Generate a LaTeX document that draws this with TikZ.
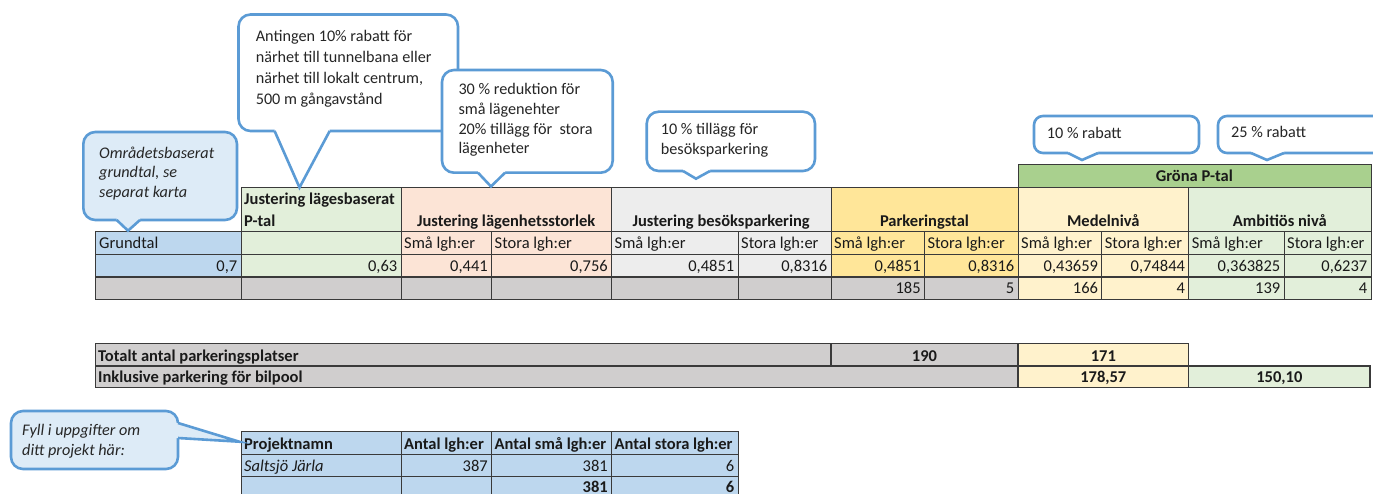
\documentclass[tikz,border=0pt]{standalone}
\usepackage{fontspec}
\setmainfont{Carlito}
\definecolor{cb}{HTML}{5B9BD5}
\definecolor{lbfill}{HTML}{DDEBF7}
\definecolor{gblue}{HTML}{BDD7EE}
\definecolor{lgreen}{HTML}{E2EFDA}
\definecolor{peach}{HTML}{FCE4D6}
\definecolor{lgrey}{HTML}{EDEDED}
\definecolor{yel}{HTML}{FFE699}
\definecolor{lyel}{HTML}{FFF2CC}
\definecolor{grn}{HTML}{A9D08E}
\definecolor{cgrey}{HTML}{D0CECE}
\definecolor{bcol}{HTML}{3A3A3A}
\definecolor{txt}{HTML}{1A1A1A}
\definecolor{ctxt}{HTML}{262626}
\newcommand\tabfont{\fontsize{16.5}{20}\selectfont}
\newcommand\tabbold{\fontsize{16.5}{21}\selectfont\bfseries}
\newcommand\calfont{\fontsize{16.2}{20}\selectfont}
\newcommand\cel[5]{\path[cellframe, fill=#5] (#1,#2) rectangle (#3,#4);}
\begin{document}
\begin{tikzpicture}[x=1pt,y=-1pt,
  cellframe/.style={draw=bcol, line width=0.9pt},
  tl/.style={inner sep=0pt, anchor=base west, font=\tabfont, text=txt},
  tr/.style={inner sep=0pt, anchor=base east, font=\tabfont, text=txt},
  tc/.style={inner sep=0pt, anchor=base, font=\tabfont, text=txt},
  hb/.style={inner sep=0pt, anchor=base, font=\tabbold, text=txt},
  cbox/.style={draw=cb, line width=2.6pt, rounded corners=12pt},
  cline/.style={draw=cb, line width=2.6pt, line join=miter},
  ctext/.style={inner sep=0pt, anchor=base west, font=\calfont, text=ctxt}]
\useasboundingbox (0,0) rectangle (1373,494);
\clip (0,0) rectangle (1373,494);
\fill[white] (0,0) rectangle (1373,494);

% ---------- main table: header ----------
\cel{241}{187.3}{401}{231.7}{lgreen}
\cel{401}{187.3}{611.5}{231.7}{peach}
\cel{611.5}{187.3}{831}{231.7}{lgrey}
\cel{831}{187.3}{1018}{231.7}{yel}
\cel{1018}{164.7}{1371}{187.3}{grn}
\cel{1018}{187.3}{1188.7}{231.7}{lyel}
\cel{1188.7}{187.3}{1371}{231.7}{lgreen}
% sub header + values rows
\foreach \a/\b/\c in {95.7/241/gblue, 241/401/lgreen, 401/491.5/peach, 491.5/611.5/peach,
  611.5/738/lgrey, 738/831/lgrey, 831/924.3/yel, 924.3/1018/yel, 1018/1101.7/lyel,
  1101.7/1188.7/lyel, 1188.7/1284/lgreen, 1284/1371/lgreen}
  {\cel{\a}{231.7}{\b}{254}{\c}\cel{\a}{254}{\b}{276.7}{\c}}
% counts row
\foreach \a/\b/\c in {95.7/241/cgrey, 241/401/cgrey, 401/491.5/cgrey, 491.5/611.5/cgrey,
  611.5/738/cgrey, 738/831/cgrey, 831/924.3/cgrey, 924.3/1018/cgrey, 1018/1101.7/lyel,
  1101.7/1188.7/lyel, 1188.7/1284/lgreen, 1284/1371/lgreen}
  {\cel{\a}{276.7}{\b}{299}{\c}}
\draw[bcol, line width=1.8pt] (95.7,276.7) -- (1371,276.7);

% header texts
\node[hb] (gronah) at (1194.3,182) {Gröna P-tal};
\node[inner sep=0pt, anchor=base west, font=\tabbold, text=txt] (lageh1) at (244,205) {Justering lägesbaserat};
\node[inner sep=0pt, anchor=base west, font=\tabbold, text=txt] (lageh2) at (244,226.5) {P-tal};
\node[hb] (storh) at (506.2,226.5) {Justering lägenhetsstorlek};
\node[hb] (besh) at (721.2,226.5) {Justering besöksparkering};
\node[hb] (parkh) at (924.5,226.5) {Parkeringstal};
\node[hb] (medh) at (1103.3,226.5) {Medelnivå};
\node[hb] (ambh) at (1279.8,226.5) {Ambitiös nivå};

% sub header texts
\node[tl] (grund) at (99,249) {Grundtal};
\node[tl] (s1) at (404,249) {Små lgh:er};
\node[tl] (s2) at (494.5,249) {Stora lgh:er};
\node[tl] (s3) at (614.5,249) {Små lgh:er};
\node[tl] (s4) at (741,249) {Stora lgh:er};
\node[tl] (s5) at (834,249) {Små lgh:er};
\node[tl] (s6) at (927.3,249) {Stora lgh:er};
\node[tl] (s7) at (1021,249) {Små lgh:er};
\node[tl] (s8) at (1104.7,249) {Stora lgh:er};
\node[tl] (s9) at (1191.7,249) {Små lgh:er};
\node[tl] (s10) at (1287,249) {Stora lgh:er};

% values
\node[tr] (v1) at (237.5,271.7) {0,7};
\node[tr] (v2) at (397.5,271.7) {0,63};
\node[tr] (v3) at (488,271.7) {0,441};
\node[tr] (v4) at (608,271.7) {0,756};
\node[tr] (v5) at (734.5,271.7) {0,4851};
\node[tr] (v6) at (827.5,271.7) {0,8316};
\node[tr] (v7) at (920.8,271.7) {0,4851};
\node[tr] (v8) at (1014.5,271.7) {0,8316};
\node[tr] (v9) at (1098.2,271.7) {0,43659};
\node[tr] (v10) at (1185.2,271.7) {0,74844};
\node[tr] (v11) at (1280.5,271.7) {0,363825};
\node[tr] (v12) at (1367.5,271.7) {0,6237};
% counts
\node[tr] (n1) at (920.8,294) {185};
\node[tr] (n2) at (1014.5,294) {5};
\node[tr] (n3) at (1098.2,294) {166};
\node[tr] (n4) at (1185.2,294) {4};
\node[tr] (n5) at (1280.5,294) {139};
\node[tr] (n6) at (1367.5,294) {4};

% ---------- totals table ----------
\begin{scope}[cellframe/.style={draw=bcol, line width=1.2pt}]
\cel{95.7}{343.3}{831}{366}{cgrey}
\cel{831}{343.3}{1018}{366}{cgrey}
\cel{1018}{343.3}{1188.7}{366}{lyel}
\cel{95.7}{366}{1018}{387.3}{cgrey}
\cel{1018}{366}{1188.7}{387.3}{lyel}
\cel{1188.7}{366}{1370}{387.3}{lgreen}
\end{scope}
\node[inner sep=0pt, anchor=base west, font=\tabbold, text=txt] (tot) at (98,361) {Totalt antal parkeringsplatser};
\node[hb] (t190) at (924.5,361) {190};
\node[hb] (t171) at (1103.3,361) {171};
\node[inner sep=0pt, anchor=base west, font=\tabbold, text=txt] (ink) at (98,382.3) {Inklusive parkering för bilpool};
\node[hb] (t178) at (1103.3,382.3) {178,57};
\node[hb] (t150) at (1279.3,382.3) {150,10};

% ---------- project table ----------
\foreach \a/\b in {241/401, 401/491.5, 491.5/611.5, 611.5/738}
  {\cel{\a}{431.7}{\b}{454.3}{gblue}\cel{\a}{454.3}{\b}{476.7}{gblue}\cel{\a}{476.7}{\b}{499}{gblue}}
\node[inner sep=0pt, anchor=base west, font=\tabbold, text=txt] (p1) at (244,449.3) {Projektnamn};
\node[inner sep=0pt, anchor=base west, font=\tabbold, text=txt] (p2) at (404,449.3) {Antal lgh:er};
\node[inner sep=0pt, anchor=base west, font=\tabbold, text=txt] (p3) at (494.5,449.3) {Antal små lgh:er};
\node[inner sep=0pt, anchor=base west, font=\tabbold, text=txt] (p4) at (614.5,449.3) {Antal stora lgh:er};
\node[tl, font=\tabfont\itshape] (pn) at (244,471.7) {Saltsjö Järla};
\node[tr] (pa) at (488,471.7) {387};
\node[tr] (ps) at (608,471.7) {381};
\node[tr] (pst) at (734.5,471.7) {6};
\node[tr, font=\tabbold] (ps2) at (608,492.5) {381};
\node[tr, font=\tabbold] (pst2) at (734.5,492.5) {6};

% ---------- callouts ----------
% Omradets
\draw[cbox, fill=lbfill] (83.3,132) rectangle (237,220);
\fill[lbfill] (116.7,218) -- (116.7,220) -- (128,230.7) -- (140,220) -- (140,218) -- cycle;
\draw[cline] (116.7,220) -- (128,230.7) -- (140,220);
\node[ctext, font=\calfont\itshape] (om) at (99,158.3) {\parbox[t]{140pt}{\baselineskip=19.5pt Områdetsbaserat\\grundtal, se\\separat karta}};

% Antingen
\draw[cbox, fill=white] (238.5,14.5) rectangle (458,131);
\fill[white] (274.6,129) -- (274.6,131) -- (299.5,187.5) -- (329.7,131) -- (329.7,129) -- cycle;
\draw[cline] (274.6,131) -- (299.5,187.5) -- (329.7,131);
\node[ctext] (ant) at (255.6,42) {\parbox[t]{200pt}{\baselineskip=20.7pt Antingen 10\% rabatt för\\närhet till tunnelbana eller\\närhet till lokalt centrum,\\500 m gångavstånd}};

% 30 %
\draw[cbox, fill=white] (442,70) rectangle (612.7,172.7);
\fill[white] (478,170.7) -- (478,172.7) -- (491,186.5) -- (505,172.7) -- (505,170.7) -- cycle;
\draw[cline] (478,172.7) -- (491,186.5) -- (505,172.7);
\node[ctext] (red) at (458.3,95) {\parbox[t]{150pt}{\baselineskip=19.6pt 30 \% reduktion för\\små lägenehter\\20\% tillägg för\ \ stora\\lägenheter}};

% besok
\draw[cbox, fill=white] (646.7,111.7) rectangle (815,171);
\fill[white] (683,169) -- (683,171) -- (696,178.7) -- (710,171) -- (710,169) -- cycle;
\draw[cline] (683,171) -- (696,178.7) -- (710,171);
\node[ctext] (bes) at (660.7,135) {\parbox[t]{150pt}{\baselineskip=19.5pt 10 \% tillägg för\\besöksparkering}};

% 10 % rabatt
\draw[cbox, rounded corners=9pt, fill=white] (1034,116) rectangle (1199,153);
\fill[white] (1068,151) -- (1068,153) -- (1082,160) -- (1098,153) -- (1098,151) -- cycle;
\draw[cline] (1068,153) -- (1082,160) -- (1098,153);
\node[ctext] (r10) at (1046.7,138.3) {10 \% rabatt};

% 25 % rabatt
\draw[cbox, rounded corners=9pt, fill=white] (1218,116) rectangle (1400,153);
\fill[white] (1251,151) -- (1251,153) -- (1267,160) -- (1284,153) -- (1284,151) -- cycle;
\draw[cline] (1251,153) -- (1267,160) -- (1284,153);
\node[ctext] (r25) at (1231,138) {25 \% rabatt};

% Fyll i
\draw[cbox, fill=lbfill] (11,411) rectangle (178,469);
\fill[lbfill] (176,423) -- (178,423) -- (239.3,441.7) -- (178,438) -- (176,438) -- cycle;
\draw[cline] (178,423) -- (239.3,441.7) -- (178,438);
\node[ctext, font=\calfont\itshape] (fyll) at (22,435) {\parbox[t]{150pt}{\baselineskip=20pt Fyll i uppgifter om\\ditt projekt här:}};
\end{tikzpicture}
\end{document}
